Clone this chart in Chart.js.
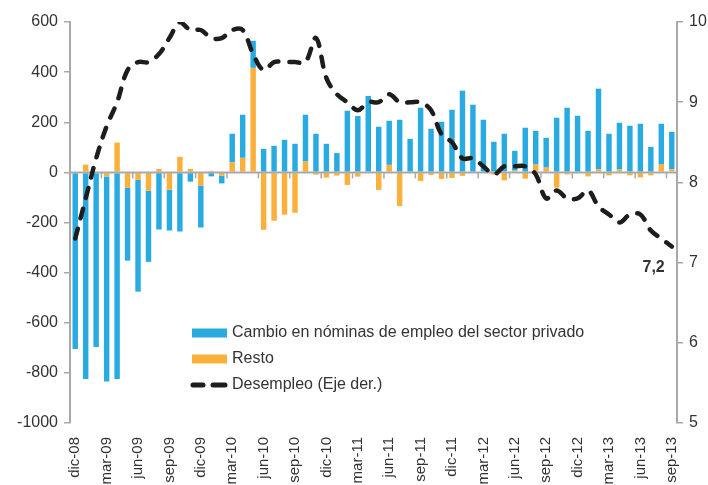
<!DOCTYPE html>
<html>
<head>
<meta charset="utf-8">
<script src="https://cdn.jsdelivr.net/npm/chart.js@4.4.0/dist/chart.umd.min.js"></script>
<style>
  html, body { margin: 0; padding: 0; background: #fff; }
  #wrap { position: relative; width: 708px; height: 485px; }
</style>
</head>
<body>
<div id="wrap"><canvas id="chart"></canvas></div>
<script>
const months = [
  'dic-08', 'ene-09', 'feb-09', 'mar-09', 'abr-09', 'may-09', 'jun-09', 'jul-09', 'ago-09', 'sep-09', 'oct-09', 'nov-09',
  'dic-09', 'ene-10', 'feb-10', 'mar-10', 'abr-10', 'may-10', 'jun-10', 'jul-10', 'ago-10', 'sep-10', 'oct-10', 'nov-10',
  'dic-10', 'ene-11', 'feb-11', 'mar-11', 'abr-11', 'may-11', 'jun-11', 'jul-11', 'ago-11', 'sep-11', 'oct-11', 'nov-11',
  'dic-11', 'ene-12', 'feb-12', 'mar-12', 'abr-12', 'may-12', 'jun-12', 'jul-12', 'ago-12', 'sep-12', 'oct-12', 'nov-12',
  'dic-12', 'ene-13', 'feb-13', 'mar-13', 'abr-13', 'may-13', 'jun-13', 'jul-13', 'ago-13', 'sep-13'
];

// cambio en nominas del sector privado (miles)
const privado = [
  -705, -824, -697, -818, -824, -291, -446, -284, -228, -163, -236, -37,
  -167, -16, -31, 114, 172, 108, 94, 106, 130, 114, 187, 154,
  114, 77, 246, 225, 305, 182, 176, 210, 134, 258, 174, 202,
  250, 326, 270, 210, 122, 154, 79, 178, 135, 119, 218, 258,
  226, 166, 322, 154, 186, 186, 194, 102, 163, 150
];

// resto del empleo
const resto = [
  0, 31, 0, -16, 119, -61, -30, -73, 14, -69, 62, 14,
  -53, 6, -13, 40, 58, 417, -229, -193, -169, -161, 43, -9,
  -21, -13, -50, -17, 0, -70, 30, -134, 0, -34, -10, -26,
  -22, -14, 0, 0, -9, -32, 7, -25, 31, 19, -61, -8,
  -3, -16, 12, -12, 12, -12, -20, -12, 31, 12
];

// tasa de desempleo (%), eje derecho
const desempleo = [
  7.3, 7.8, 8.3, 8.7, 9.0, 9.4, 9.5, 9.5, 9.6, 9.8, 10.0, 9.9,
  9.9, 9.8, 9.8, 9.9, 9.9, 9.6, 9.4, 9.5, 9.5, 9.5, 9.5, 9.8,
  9.3, 9.1, 9.0, 8.9, 9.0, 9.0, 9.1, 9.0, 9.0, 9.0, 8.9, 8.6,
  8.5, 8.3, 8.3, 8.2, 8.1, 8.2, 8.2, 8.2, 8.1, 7.8, 7.9, 7.8,
  7.8, 7.9, 7.7, 7.6, 7.5, 7.6, 7.6, 7.4, 7.3, 7.2
];

const yTicks = [-1000, -800, -600, -400, -200, 0, 200, 400, 600];
const y2Ticks = [5, 6, 7, 8, 9, 10];
const legendNames = ['Cambio en nóminas de empleo del sector privado', 'Resto', 'Desempleo (Eje der.)'];

const BLUE = '#29abe2';
const ORANGE = '#fbb03b';
const LINE = '#1d1d1b';
const AXIS = '#a9a9a9';
const TEXT = '#333333';
const FONT = '"Liberation Sans", Arial, sans-serif';

// linea del cero, marcas del eje x, etiqueta final y leyenda
const extras = {
  id: 'extras',
  afterDatasetDraw(chart, args) {
    if (args.index !== 0) return;
    const { ctx, chartArea, scales: { x, y } } = chart;
    const y0 = y.getPixelForValue(0);
    ctx.save();
    ctx.strokeStyle = AXIS;
    ctx.lineWidth = 2;
    ctx.beginPath();
    ctx.moveTo(chartArea.left, y0);
    ctx.lineTo(chartArea.right, y0);
    ctx.stroke();
    ctx.lineWidth = 1.5;
    for (let i = 3; i < months.length; i += 3) {
      const bx = (x.getPixelForValue(i - 1) + x.getPixelForValue(i)) / 2;
      ctx.beginPath();
      ctx.moveTo(bx, y0);
      ctx.lineTo(bx, y0 + 6);
      ctx.stroke();
    }
    ctx.restore();
  },
  afterDraw(chart) {
    const { ctx } = chart;
    const meta = chart.getDatasetMeta(2);
    const last = meta.data[meta.data.length - 1];
    ctx.save();
    ctx.fillStyle = TEXT;
    ctx.font = 'bold 16px ' + FONT;
    ctx.textAlign = 'right';
    ctx.textBaseline = 'middle';
    ctx.fillText(String(desempleo[desempleo.length - 1]).replace('.', ','), last.x - 7, last.y + 21);

    // leyenda
    const lx = 192, rows = [333, 359, 385];
    ctx.fillStyle = BLUE;
    ctx.fillRect(lx, rows[0] - 4.5, 35, 9);
    ctx.fillStyle = ORANGE;
    ctx.fillRect(lx, rows[1] - 4.5, 35, 9);
    ctx.strokeStyle = LINE;
    ctx.lineWidth = 5;
    ctx.lineCap = 'round';
    ctx.beginPath();
    ctx.moveTo(lx + 1, rows[2]); ctx.lineTo(lx + 11, rows[2]);
    ctx.moveTo(lx + 21, rows[2]); ctx.lineTo(lx + 33, rows[2]);
    ctx.stroke();
    ctx.fillStyle = TEXT;
    ctx.font = '16px ' + FONT;
    ctx.textAlign = 'left';
    legendNames.forEach((name, i) => ctx.fillText(name, lx + 40, rows[i]));
    ctx.restore();
  }
};

new Chart(document.getElementById('chart'), {
  type: 'bar',
  data: {
    labels: months,
    datasets: [
      {
        label: legendNames[1],
        data: resto,
        backgroundColor: ORANGE,
        yAxisID: 'y',
        stack: 'empleo',
        barPercentage: 0.52,
        categoryPercentage: 1,
        order: 1
      },
      {
        label: legendNames[0],
        data: privado,
        backgroundColor: BLUE,
        yAxisID: 'y',
        stack: 'empleo',
        barPercentage: 0.52,
        categoryPercentage: 1,
        order: 1
      },
      {
        type: 'line',
        label: legendNames[2],
        data: desempleo,
        yAxisID: 'y1',
        borderColor: LINE,
        borderWidth: 4.5,
        borderDash: [10, 11],
        borderCapStyle: 'round',
        tension: 0.35,
        pointRadius: 0,
        fill: false,
        order: 0
      }
    ]
  },
  options: {
    responsive: true,
    maintainAspectRatio: false,
    animation: false,
    layout: { padding: { top: 22, left: 0, right: 0, bottom: 0 } },
    plugins: {
      legend: { display: false },
      tooltip: { enabled: false }
    },
    scales: {
      x: {
        stacked: true,
        offset: true,
        grid: { display: false, drawTicks: false },
        border: { display: false },
        ticks: {
          autoSkip: false,
          maxRotation: 90,
          minRotation: 90,
          padding: 14,
          color: TEXT,
          font: { size: 15, family: FONT },
          callback: (v, i) => (i % 3 === 0 ? months[i] : '')
        },
        afterFit: s => { s.height = 62; }
      },
      y: {
        position: 'left',
        stacked: true,
        min: yTicks[0],
        max: yTicks[yTicks.length - 1],
        afterBuildTicks: s => { s.ticks = yTicks.map(v => ({ value: v })); },
        grid: { drawOnChartArea: false, color: AXIS, tickLength: 6, lineWidth: 1.5 },
        border: { color: AXIS, width: 2 },
        ticks: { color: TEXT, padding: 6, font: { size: 16, family: FONT }, callback: v => String(v) },
        afterFit: s => { s.width = 70; }
      },
      y1: {
        position: 'right',
        stacked: false,
        min: y2Ticks[0],
        max: y2Ticks[y2Ticks.length - 1],
        afterBuildTicks: s => { s.ticks = y2Ticks.map(v => ({ value: v })); },
        grid: { drawOnChartArea: false, color: AXIS, tickLength: 6, lineWidth: 1.5 },
        border: { color: AXIS, width: 2 },
        ticks: { color: TEXT, padding: 6, font: { size: 16, family: FONT }, callback: v => String(v) },
        afterFit: s => { s.width = 31; }
      }
    }
  },
  plugins: [extras]
});
</script>
</body>
</html>
